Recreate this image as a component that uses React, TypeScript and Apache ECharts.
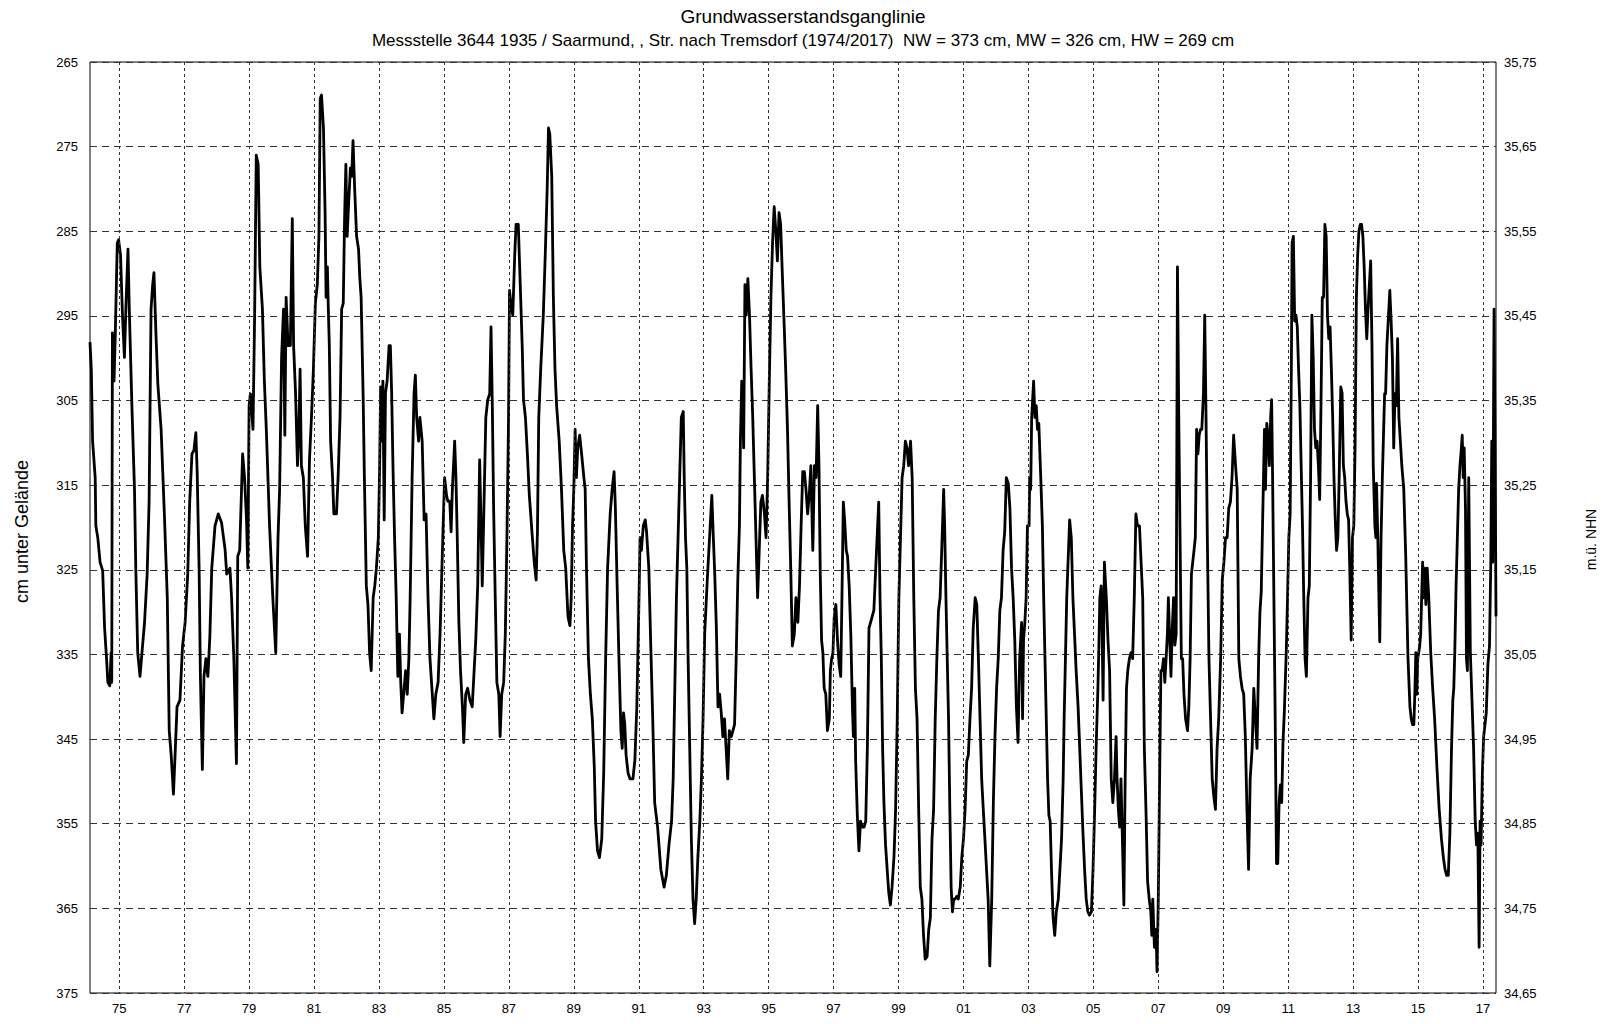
import React, { useEffect, useRef } from "react";
import * as echarts from "echarts";

const chartTitle = "Grundwasserstandsganglinie";
const chartSubtitle =
  "Messstelle 3644 1935 / Saarmund, , Str. nach Tremsdorf (1974/2017)  NW = 373 cm, MW = 326 cm, HW = 269 cm";

// years that carry a label and a vertical grid line
const labelYears = [
  1975, 1977, 1979, 1981, 1983, 1985, 1987, 1989, 1991, 1993, 1995, 1997, 1999,
  2001, 2003, 2005, 2007, 2009, 2011, 2013, 2015, 2017,
];

// groundwater depth (cm below ground) against decimal year
const t1974 = [1974.1, 1974.14, 1974.18, 1974.26, 1974.28, 1974.34, 1974.41, 1974.49, 1974.55, 1974.61, 1974.65, 1974.71, 1974.75, 1974.77, 1974.79, 1974.84, 1974.88, 1974.94, 1974.98,
  1975.04, 1975.1, 1975.16, 1975.21, 1975.27, 1975.31, 1975.39, 1975.47, 1975.51, 1975.57, 1975.64, 1975.7, 1975.78, 1975.86, 1975.92, 1975.98,
  1976.03, 1976.07, 1976.13, 1976.19, 1976.29, 1976.39, 1976.48, 1976.54, 1976.6, 1976.67, 1976.72, 1976.78, 1976.87, 1976.95,
  1977.03, 1977.11, 1977.17, 1977.24, 1977.3, 1977.36, 1977.4, 1977.46, 1977.5, 1977.56, 1977.61, 1977.67, 1977.73, 1977.79, 1977.85, 1977.95,
  1978.05, 1978.15, 1978.26, 1978.31, 1978.41, 1978.46, 1978.53, 1978.61, 1978.65, 1978.71, 1978.8, 1978.86, 1978.92, 1978.96,
  1979.0, 1979.04, 1979.12, 1979.17, 1979.22, 1979.28, 1979.33, 1979.41, 1979.47, 1979.53, 1979.63, 1979.73, 1979.82, 1979.89, 1979.94];
const cm1974 = [298.1, 301.3, 309.8, 314.1, 319.8, 321.2, 324.1, 325.1, 331.9, 335.5, 338.3, 338.7, 334.8, 338.3, 297.0, 302.7, 297.0, 286.4, 286.0,
  287.8, 294.9, 299.9, 293.5, 287.1, 294.2, 305.6, 315.5, 324.8, 334.8, 337.6, 334.8, 331.2, 325.5, 317.0, 294.2,
  291.3, 289.9, 297.0, 303.1, 308.4, 318.4, 328.3, 344.0, 346.9, 351.5, 346.9, 341.2, 340.4, 334.0,
  331.2, 325.5, 317.0, 311.3, 310.9, 308.8, 313.4, 324.8, 337.6, 348.6, 337.6, 335.5, 337.6, 333.0, 324.8, 319.8,
  318.4, 319.4, 322.6, 325.5, 324.8, 328.3, 335.5, 347.9, 323.4, 322.7, 311.3, 314.1, 319.1, 324.8,
  305.6, 304.2, 308.4, 294.9, 276.0, 277.1, 289.2, 294.2, 302.7, 308.4, 319.8, 328.3, 334.8, 321.2, 315.5];

const t1980 = [1980.0, 1980.06, 1980.1, 1980.14, 1980.2, 1980.27, 1980.33, 1980.37, 1980.43, 1980.49, 1980.53, 1980.57, 1980.61, 1980.67, 1980.73, 1980.8, 1980.86, 1980.92, 1980.98,
  1981.04, 1981.1, 1981.15, 1981.19, 1981.23, 1981.29, 1981.34, 1981.37, 1981.41, 1981.44, 1981.47, 1981.51, 1981.57, 1981.61, 1981.69, 1981.74, 1981.8, 1981.85, 1981.9, 1981.94, 1981.98,
  1982.02, 1982.06, 1982.12, 1982.16, 1982.2, 1982.25, 1982.31, 1982.37, 1982.41, 1982.45, 1982.51, 1982.55, 1982.61, 1982.66, 1982.71, 1982.76, 1982.82, 1982.87, 1982.92, 1982.98,
  1983.02, 1983.05, 1983.09, 1983.12, 1983.16, 1983.2, 1983.25, 1983.31, 1983.35, 1983.39, 1983.43, 1983.48, 1983.53, 1983.58, 1983.63, 1983.67, 1983.71, 1983.76, 1983.82, 1983.87, 1983.92, 1983.96,
  1984.02, 1984.08, 1984.12, 1984.16, 1984.22, 1984.26, 1984.33, 1984.39, 1984.45, 1984.51, 1984.57, 1984.63, 1984.69, 1984.75, 1984.82, 1984.88, 1984.96];
const cm1980 = [299.9, 294.2, 309.1, 292.8, 298.5, 298.5, 283.5, 298.5, 304.1, 312.7, 309.1, 301.3, 312.7, 314.1, 319.8, 323.4, 311.9, 307.0, 301.3,
  293.5, 291.3, 285.6, 269.3, 268.9, 272.8, 282.8, 292.8, 289.2, 294.2, 298.5, 309.8, 314.1, 318.4, 318.4, 314.1, 307.0, 294.2, 293.5, 283.5, 277.1,
  285.6, 282.1, 277.5, 278.5, 274.3, 279.9, 285.6, 287.1, 290.6, 292.8, 304.1, 314.1, 326.9, 329.1, 334.8, 336.9, 328.3, 326.9, 324.8, 321.2,
  312.7, 303.4, 309.8, 302.7, 319.1, 304.1, 302.7, 298.5, 298.5, 304.1, 312.7, 321.2, 328.3, 337.6, 332.6, 338.3, 341.9, 339.7, 336.9, 339.7, 335.5, 328.3,
  314.1, 304.1, 302.0, 307.0, 309.8, 307.0, 309.8, 319.1, 318.4, 328.3, 335.5, 339.0, 342.6, 339.7, 338.3, 332.6, 321.9];

const t1985 = [1985.02, 1985.08, 1985.12, 1985.18, 1985.22, 1985.26, 1985.33, 1985.37, 1985.41, 1985.46, 1985.51, 1985.57, 1985.61, 1985.67, 1985.73, 1985.8, 1985.87, 1985.92, 1985.98,
  1986.04, 1986.1, 1986.14, 1986.18, 1986.22, 1986.29, 1986.35, 1986.41, 1986.45, 1986.49, 1986.53, 1986.58, 1986.63, 1986.69, 1986.73, 1986.78, 1986.84, 1986.89, 1986.94, 1986.99,
  1987.02, 1987.06, 1987.12, 1987.18, 1987.22, 1987.29, 1987.35, 1987.41, 1987.45, 1987.51, 1987.57, 1987.63, 1987.71, 1987.78, 1987.84, 1987.88, 1987.92, 1987.98,
  1988.06, 1988.12, 1988.18, 1988.22, 1988.26, 1988.32, 1988.37, 1988.42, 1988.47, 1988.55, 1988.62, 1988.69, 1988.75, 1988.82, 1988.88, 1988.92, 1988.96,
  1989.0, 1989.04, 1989.08, 1989.12, 1989.18, 1989.24, 1989.31, 1989.35, 1989.39, 1989.45, 1989.51, 1989.57, 1989.63, 1989.67, 1989.73, 1989.79, 1989.86, 1989.92, 1989.98];
const cm1985 = [314.1, 316.2, 316.9, 316.9, 320.5, 315.5, 309.8, 314.1, 321.2, 331.2, 336.9, 341.2, 345.4, 339.7, 339.0, 340.4, 341.2, 337.6, 333.3,
  326.9, 312.0, 319.1, 326.9, 319.8, 307.0, 304.9, 304.2, 296.3, 305.6, 317.7, 328.3, 338.3, 339.7, 344.7, 339.7, 338.3, 332.6, 321.2, 307.0,
  292.0, 293.5, 294.9, 287.8, 284.2, 284.2, 291.3, 298.5, 304.9, 307.0, 311.3, 316.2, 320.5, 324.1, 326.2, 320.5, 307.0, 301.3,
  294.9, 287.8, 279.9, 272.8, 273.5, 278.5, 292.8, 301.3, 305.6, 309.8, 315.5, 322.7, 324.8, 330.5, 331.6, 328.3, 319.8,
  315.5, 308.4, 314.1, 310.6, 309.1, 311.3, 314.1, 315.5, 324.8, 335.5, 339.7, 342.6, 348.3, 354.7, 358.2, 359.0, 356.8, 349.0, 335.5];

const t1990 = [1990.04, 1990.12, 1990.18, 1990.24, 1990.28, 1990.33, 1990.39, 1990.45, 1990.49, 1990.53, 1990.57, 1990.61, 1990.67, 1990.73, 1990.82, 1990.88, 1990.94,
  1991.0, 1991.04, 1991.08, 1991.14, 1991.2, 1991.24, 1991.31, 1991.37, 1991.43, 1991.49, 1991.58, 1991.68, 1991.78, 1991.85, 1991.93,
  1992.01, 1992.06, 1992.11, 1992.16, 1992.21, 1992.26, 1992.31, 1992.37, 1992.4, 1992.44, 1992.48, 1992.52, 1992.57, 1992.62, 1992.67, 1992.72, 1992.77, 1992.82, 1992.88, 1992.93, 1992.98,
  1993.03, 1993.11, 1993.18, 1993.25, 1993.29, 1993.34, 1993.39, 1993.44, 1993.49, 1993.54, 1993.59, 1993.64, 1993.69, 1993.74, 1993.79, 1993.85, 1993.9, 1993.95,
  1994.0, 1994.05, 1994.1, 1994.13, 1994.17, 1994.2, 1994.23, 1994.27, 1994.31, 1994.36, 1994.41, 1994.46, 1994.51, 1994.56, 1994.61, 1994.66, 1994.71, 1994.76, 1994.81, 1994.87, 1994.92, 1994.97];
const cm1990 = [324.8, 318.4, 315.5, 313.4, 317.7, 326.2, 335.5, 344.0, 346.1, 341.9, 343.3, 346.9, 349.0, 349.7, 349.7, 347.5, 341.2,
  329.8, 321.2, 322.7, 319.8, 319.1, 320.5, 324.8, 334.0, 342.6, 352.5, 355.4, 360.4, 362.5, 361.1, 357.5,
  354.7, 349.7, 339.0, 328.3, 321.2, 314.1, 307.0, 306.3, 314.1, 321.2, 324.8, 335.5, 346.2, 356.8, 363.9, 366.8, 363.9, 359.0, 354.7, 349.7, 342.6,
  332.6, 326.2, 321.2, 316.2, 320.5, 325.5, 331.9, 341.2, 339.7, 341.9, 344.7, 342.6, 346.1, 349.7, 344.0, 344.7, 344.0, 343.3,
  335.5, 326.2, 319.8, 309.8, 302.7, 305.6, 310.6, 291.3, 294.9, 290.6, 294.9, 301.3, 307.0, 314.1, 321.2, 328.3, 322.7, 317.0, 316.2, 318.4, 321.2, 314.1];

const t1995 = [1995.02, 1995.07, 1995.12, 1995.17, 1995.22, 1995.27, 1995.32, 1995.37, 1995.42, 1995.48, 1995.53, 1995.58, 1995.63, 1995.68, 1995.73, 1995.79, 1995.84, 1995.9, 1995.95,
  1996.0, 1996.05, 1996.1, 1996.15, 1996.2, 1996.25, 1996.3, 1996.36, 1996.41, 1996.46, 1996.51, 1996.55, 1996.59, 1996.63, 1996.67, 1996.71, 1996.76, 1996.81, 1996.87, 1996.9, 1996.94, 1996.98,
  1997.02, 1997.07, 1997.12, 1997.17, 1997.22, 1997.26, 1997.3, 1997.34, 1997.39, 1997.43, 1997.48, 1997.53, 1997.58, 1997.61, 1997.65, 1997.68, 1997.73, 1997.78, 1997.83, 1997.89, 1997.94, 1997.99,
  1998.04, 1998.09, 1998.14, 1998.19, 1998.24, 1998.29, 1998.34, 1998.39, 1998.43, 1998.47, 1998.51, 1998.55, 1998.6, 1998.65, 1998.7, 1998.75, 1998.8, 1998.86, 1998.91, 1998.96,
  1999.01, 1999.06, 1999.11, 1999.16, 1999.21, 1999.26, 1999.31, 1999.37, 1999.42, 1999.47, 1999.52, 1999.57, 1999.62, 1999.67, 1999.72, 1999.77, 1999.82, 1999.88, 1999.93, 1999.98];
const cm1995 = [302.7, 292.8, 286.4, 282.1, 284.9, 288.5, 282.8, 284.2, 289.9, 296.3, 302.0, 308.4, 317.0, 324.8, 334.0, 332.6, 328.3, 331.2, 326.9,
  319.8, 313.4, 313.4, 315.5, 318.4, 316.2, 312.7, 322.7, 312.7, 314.1, 305.6, 312.7, 325.5, 333.3, 334.8, 339.0, 339.7, 344.0, 342.6, 336.9, 335.5, 334.8,
  330.5, 329.1, 333.3, 336.2, 337.6, 327.6, 317.0, 319.1, 322.7, 323.4, 326.9, 332.6, 341.2, 344.7, 339.0, 347.6, 353.9, 358.2, 354.7, 355.4, 355.4, 354.7,
  346.1, 331.9, 331.2, 330.5, 329.8, 325.5, 321.2, 317.0, 328.3, 335.5, 346.1, 352.5, 357.5, 360.4, 363.2, 364.6, 362.5, 358.9, 353.3, 342.6,
  328.3, 321.2, 314.1, 312.7, 309.8, 310.6, 312.7, 309.8, 314.1, 328.3, 339.0, 342.6, 353.3, 362.5, 363.9, 368.2, 371.0, 370.7, 367.5, 366.1];

const t2000 = [2000.03, 2000.08, 2000.13, 2000.18, 2000.23, 2000.28, 2000.33, 2000.39, 2000.42, 2000.46, 2000.5, 2000.54, 2000.58, 2000.62, 2000.66, 2000.7, 2000.74, 2000.79, 2000.84, 2000.9, 2000.95,
  2001.0, 2001.05, 2001.1, 2001.15, 2001.2, 2001.25, 2001.3, 2001.36, 2001.41, 2001.46, 2001.51, 2001.56, 2001.61, 2001.66, 2001.71, 2001.76, 2001.81, 2001.87, 2001.92, 2001.97,
  2002.02, 2002.07, 2002.12, 2002.17, 2002.22, 2002.27, 2002.32, 2002.38, 2002.43, 2002.48, 2002.53, 2002.58, 2002.63, 2002.68, 2002.73, 2002.79, 2002.82, 2002.85, 2002.89, 2002.93, 2002.97,
  2003.02, 2003.04, 2003.07, 2003.1, 2003.13, 2003.16, 2003.2, 2003.24, 2003.28, 2003.32, 2003.38, 2003.43, 2003.47, 2003.51, 2003.55, 2003.59, 2003.63, 2003.67, 2003.71, 2003.76, 2003.81, 2003.86, 2003.92, 2003.97,
  2004.02, 2004.07, 2004.1, 2004.14, 2004.18, 2004.22, 2004.27, 2004.32, 2004.37, 2004.42, 2004.47, 2004.53, 2004.58, 2004.63, 2004.68, 2004.73, 2004.78, 2004.83, 2004.88, 2004.94, 2004.99];
const cm2000 = [356.8, 353.3, 342.6, 335.5, 329.8, 328.3, 322.7, 315.5, 319.8, 328.3, 335.5, 342.6, 353.3, 362.5, 365.4, 363.9, 363.9, 363.6, 363.9, 362.5, 358.9,
  356.8, 353.3, 347.6, 346.9, 342.6, 339.0, 331.9, 328.3, 329.1, 335.5, 342.6, 349.7, 353.3, 356.8, 360.4, 363.9, 371.8, 363.9, 352.5, 344.7,
  339.0, 335.5, 329.8, 328.3, 322.7, 320.5, 314.1, 314.8, 317.7, 324.8, 328.3, 333.3, 341.2, 345.4, 335.5, 331.2, 342.6, 333.3, 331.2, 328.3, 319.8,
  319.8, 314.1, 315.5, 307.0, 304.9, 302.7, 307.0, 305.6, 308.4, 307.7, 314.1, 319.8, 328.3, 335.5, 342.6, 349.7, 354.0, 354.7, 360.4, 366.1, 368.2, 365.4, 363.9, 360.4,
  356.8, 349.7, 342.6, 335.5, 328.3, 324.1, 319.1, 321.2, 328.3, 332.6, 336.9, 341.2, 346.1, 351.1, 356.1, 360.4, 363.9, 365.4, 365.8, 365.4, 360.4];

const t2005 = [2005.04, 2005.09, 2005.14, 2005.17, 2005.2, 2005.24, 2005.27, 2005.3, 2005.34, 2005.4, 2005.45, 2005.5, 2005.55, 2005.6, 2005.65, 2005.7, 2005.73, 2005.77, 2005.81, 2005.85, 2005.89, 2005.94, 2005.98,
  2006.02, 2006.06, 2006.11, 2006.16, 2006.21, 2006.26, 2006.31, 2006.36, 2006.42, 2006.47, 2006.52, 2006.57, 2006.62, 2006.67, 2006.72, 2006.77, 2006.8, 2006.83, 2006.88, 2006.93, 2006.96,
  2007.0, 2007.04, 2007.08, 2007.12, 2007.16, 2007.2, 2007.24, 2007.28, 2007.31, 2007.34, 2007.39, 2007.43, 2007.47, 2007.51, 2007.55, 2007.59, 2007.63, 2007.67, 2007.71, 2007.75, 2007.79, 2007.84, 2007.9, 2007.94, 2007.98,
  2008.02, 2008.06, 2008.1, 2008.14, 2008.18, 2008.22, 2008.26, 2008.3, 2008.34, 2008.39, 2008.43, 2008.47, 2008.51, 2008.56, 2008.61, 2008.66, 2008.71, 2008.76, 2008.81, 2008.86, 2008.92, 2008.97,
  2009.02, 2009.07, 2009.12, 2009.17, 2009.22, 2009.27, 2009.32, 2009.38, 2009.43, 2009.48, 2009.53, 2009.58, 2009.63, 2009.68, 2009.73, 2009.78, 2009.83, 2009.89, 2009.94, 2009.99];
const cm2005 = [353.3, 345.4, 339.0, 334.0, 328.3, 326.9, 332.6, 340.4, 324.1, 328.3, 333.3, 336.9, 349.7, 352.5, 349.7, 344.7, 349.7, 353.3, 355.4, 349.7, 356.1, 364.6, 349.7,
  339.0, 336.9, 335.5, 334.8, 335.5, 328.3, 318.4, 319.8, 319.8, 324.1, 328.3, 346.1, 353.3, 361.8, 363.9, 365.4, 368.2, 363.9, 369.6, 367.5, 372.5,
  363.9, 349.7, 336.9, 336.9, 335.5, 338.3, 335.5, 332.6, 328.3, 331.9, 337.6, 331.9, 328.3, 333.9, 332.6, 289.2, 307.0, 321.2, 335.5, 335.5, 339.7, 342.6, 344.0, 341.2, 335.5,
  325.5, 324.1, 322.7, 321.2, 308.4, 311.3, 309.1, 308.4, 308.4, 304.2, 294.9, 307.0, 321.2, 335.5, 342.6, 349.7, 351.8, 353.3, 346.1, 342.6, 335.5, 326.2,
  324.1, 321.2, 321.2, 317.7, 317.0, 314.1, 309.1, 312.7, 315.5, 335.5, 337.6, 339.0, 339.7, 344.7, 353.3, 360.4, 349.7, 346.1, 339.0, 342.6];

const t2010 = [2010.04, 2010.09, 2010.13, 2010.17, 2010.21, 2010.24, 2010.27, 2010.3, 2010.34, 2010.38, 2010.42, 2010.46, 2010.49, 2010.52, 2010.56, 2010.6, 2010.64, 2010.68, 2010.72, 2010.76, 2010.8, 2010.84, 2010.88, 2010.94, 2010.98,
  2011.02, 2011.06, 2011.1, 2011.12, 2011.16, 2011.2, 2011.24, 2011.28, 2011.32, 2011.36, 2011.4, 2011.44, 2011.48, 2011.52, 2011.56, 2011.61, 2011.65, 2011.69, 2011.73, 2011.77, 2011.81, 2011.85, 2011.89, 2011.93, 2011.97,
  2012.01, 2012.05, 2012.09, 2012.13, 2012.17, 2012.21, 2012.25, 2012.29, 2012.33, 2012.37, 2012.41, 2012.45, 2012.49, 2012.53, 2012.57, 2012.62, 2012.66, 2012.7, 2012.74, 2012.78, 2012.82, 2012.86, 2012.9, 2012.94, 2012.98,
  2013.02, 2013.06, 2013.1, 2013.14, 2013.18, 2013.22, 2013.26, 2013.3, 2013.34, 2013.38, 2013.42, 2013.46, 2013.5, 2013.54, 2013.58, 2013.62, 2013.67, 2013.7, 2013.72, 2013.76, 2013.82, 2013.86, 2013.9, 2013.94, 2013.97];
const cm2010 = [346.1, 335.5, 330.0, 327.6, 319.8, 314.1, 308.4, 315.5, 307.7, 309.1, 312.7, 307.0, 304.9, 314.1, 328.3, 342.6, 359.7, 359.7, 352.5, 350.4, 352.5, 345.4, 341.9, 334.8, 328.3,
  321.2, 318.4, 299.9, 286.4, 285.6, 295.6, 294.9, 296.3, 301.3, 305.6, 312.7, 319.8, 328.3, 335.5, 337.6, 328.3, 326.9, 314.1, 294.9, 299.9, 308.4, 310.6, 309.8, 312.7, 316.7,
  305.6, 292.8, 292.8, 284.2, 285.6, 294.9, 297.7, 296.3, 301.3, 307.0, 314.1, 319.1, 322.7, 321.2, 314.1, 303.4, 304.1, 312.7, 314.1, 316.9, 318.4, 319.1, 325.5, 333.3, 321.2,
  319.8, 310.6, 292.8, 287.8, 284.9, 284.2, 284.2, 285.6, 289.2, 294.2, 297.7, 294.2, 291.3, 288.5, 298.5, 312.7, 319.8, 321.2, 314.8, 321.2, 333.5, 321.2, 314.1, 308.4, 304.2];

const t2014 = [2014.0, 2014.04, 2014.08, 2014.13, 2014.17, 2014.21, 2014.25, 2014.29, 2014.33, 2014.37, 2014.41, 2014.5, 2014.56, 2014.62, 2014.69, 2014.75, 2014.79, 2014.83, 2014.87, 2014.9, 2014.93, 2014.96, 2014.99,
  2015.02, 2015.05, 2015.08, 2015.11, 2015.14, 2015.17, 2015.2, 2015.24, 2015.28, 2015.33, 2015.39, 2015.45, 2015.51, 2015.58, 2015.65, 2015.72, 2015.78, 2015.83, 2015.88, 2015.93, 2015.98,
  2016.03, 2016.07, 2016.1, 2016.13, 2016.17, 2016.21, 2016.25, 2016.29, 2016.32, 2016.36, 2016.39, 2016.42, 2016.46, 2016.49, 2016.52, 2016.56, 2016.61, 2016.66, 2016.71, 2016.76, 2016.8, 2016.84, 2016.88, 2016.91, 2016.94, 2016.98,
  2017.02, 2017.06, 2017.1, 2017.15, 2017.2, 2017.24, 2017.27, 2017.3, 2017.34, 2017.37, 2017.4];
const cm2014 = [304.2, 298.5, 295.6, 292.0, 295.6, 299.9, 310.6, 304.2, 305.6, 297.7, 307.0, 312.7, 315.5, 323.4, 335.5, 341.2, 342.6, 343.3, 343.3, 339.7, 334.8, 339.7, 335.5,
  334.8, 334.0, 332.6, 328.3, 324.1, 328.3, 324.8, 329.1, 324.8, 328.3, 334.8, 339.0, 342.6, 348.3, 353.3, 356.8, 359.0, 360.4, 361.1, 361.1, 356.1,
  346.1, 340.4, 339.0, 334.8, 327.0, 321.2, 315.5, 312.7, 311.3, 309.1, 314.1, 310.6, 317.7, 335.5, 336.9, 314.1, 334.8, 340.4, 346.1, 354.7, 357.5, 356.1, 369.6, 354.7, 357.5, 349.0,
  344.7, 343.3, 341.9, 336.2, 334.0, 324.1, 309.8, 324.1, 294.2, 309.8, 330.5];

const years = [...t1974, ...t1980, ...t1985, ...t1990, ...t1995, ...t2000, ...t2005, ...t2010, ...t2014];
const depths = [...cm1974, ...cm1980, ...cm1985, ...cm1990, ...cm1995, ...cm2000, ...cm2005, ...cm2010, ...cm2014];

const FONT = "'Liberation Sans', Arial, sans-serif";

export default function App() {
  const ref = useRef<HTMLDivElement>(null);
  useEffect(() => {
    if (!ref.current) return;
    const chart = echarts.init(ref.current, null, { renderer: "svg" });
    const data = years.map((y, i) => [y, depths[i]]);
    chart.setOption({
      animation: false,
      backgroundColor: "#fff",
      textStyle: { fontFamily: FONT },
      title: [
        {
          text: chartTitle,
          left: "center",
          top: 7,
          padding: 0,
          textStyle: { fontSize: 19, fontWeight: "normal", color: "#000", fontFamily: FONT },
        },
        {
          text: chartSubtitle,
          left: "center",
          top: 32,
          padding: 0,
          textStyle: { fontSize: 17, fontWeight: "normal", color: "#000", fontFamily: FONT },
        },
      ],
      grid: {
        left: 90,
        right: 107,
        top: 62,
        bottom: 31,
        show: true,
        borderColor: "#000",
        borderWidth: 1,
        backgroundColor: "transparent",
      },
      xAxis: {
        type: "value",
        min: 1974.1,
        max: 2017.4,
        axisLine: { show: false },
        axisTick: { show: false },
        splitLine: { show: false },
        axisLabel: {
          customValues: labelYears,
          formatter: (v: number) => String(Math.round(v) % 100).padStart(2, "0"),
          color: "#000",
          fontSize: 13,
          margin: 9,
          fontFamily: FONT,
        },
      },
      yAxis: [
        {
          type: "value",
          inverse: true,
          min: 265,
          max: 375,
          interval: 10,
          position: "left",
          name: "cm unter Gelände",
          nameLocation: "middle",
          nameGap: 59,
          nameTextStyle: { fontSize: 18, color: "#000", fontFamily: FONT, padding: [0, 8, 0, 0] },
          axisLine: { show: false },
          axisTick: { show: false },
          splitLine: { show: true, lineStyle: { type: [7, 5], color: "#333", width: 1 } },
          axisLabel: { color: "#000", fontSize: 13, margin: 12, fontFamily: FONT },
        },
        {
          type: "value",
          min: 34.65,
          max: 35.75,
          interval: 0.1,
          position: "right",
          name: "m.ü. NHN",
          nameLocation: "middle",
          nameGap: 88,
          nameTextStyle: { fontSize: 14, color: "#000", fontFamily: FONT, padding: [0, 24, 0, 0] },
          axisLine: { show: false },
          axisTick: { show: false },
          splitLine: { show: false },
          axisLabel: {
            color: "#000",
            fontSize: 13,
            margin: 8,
            fontFamily: FONT,
            formatter: (v: number) => v.toFixed(2).replace(".", ","),
          },
        },
      ],
      series: [
        {
          name: "grid",
          type: "line",
          data: [],
          z: 1,
          silent: true,
          markLine: {
            silent: true,
            symbol: "none",
            label: { show: false },
            lineStyle: { type: [3, 3], color: "#333", width: 1 },
            data: labelYears.map((y) => ({ xAxis: y })),
          },
        },
        {
          name: "Grundwasserstand",
          type: "line",
          data,
          z: 3,
          showSymbol: false,
          symbol: "none",
          lineStyle: { color: "#000", width: 2.8, join: "round" },
        },
      ],
    });
    return () => chart.dispose();
  }, []);
  return (
    <div
      ref={ref}
      style={{ position: "fixed", left: 0, top: 0, width: 1606, height: 1024, background: "#fff" }}
    />
  );
}
